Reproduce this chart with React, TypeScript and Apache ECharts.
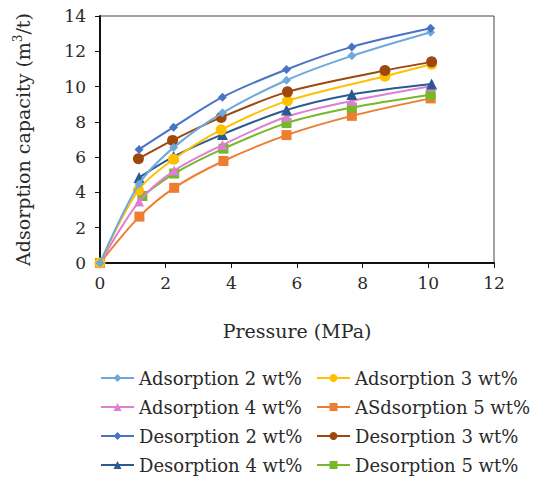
import React, { useEffect, useRef } from "react";
import * as echarts from "echarts";

const seriesNames = [
  "Adsorption 2 wt%",
  "Adsorption 3 wt%",
  "Adsorption 4 wt%",
  "ASdsorption 5 wt%",
  "Desorption 2 wt%",
  "Desorption 3 wt%",
  "Desorption 4 wt%",
  "Desorption 5 wt%",
];

const ads2: [number, number][] = [[0, 0], [1.19, 4.48], [2.24, 6.54], [3.73, 8.51], [5.68, 10.36], [7.67, 11.74], [10.07, 13.08]];
const ads3: [number, number][] = [[0, 0], [1.17, 4.13], [2.24, 5.88], [3.69, 7.55], [5.71, 9.19], [8.68, 10.59], [10.1, 11.27]];
const ads4: [number, number][] = [[0, 0], [1.19, 3.48], [2.26, 5.24], [3.73, 6.69], [5.68, 8.29], [7.67, 9.19], [10.07, 10.02]];
const ads5: [number, number][] = [[0, 0], [1.2, 2.63], [2.26, 4.26], [3.76, 5.78], [5.68, 7.25], [7.67, 8.34], [10.07, 9.33]];
const des2: [number, number][] = [[1.19, 6.44], [2.24, 7.7], [3.73, 9.4], [5.68, 10.97], [7.67, 12.25], [10.07, 13.3]];
const des3: [number, number][] = [[1.17, 5.91], [2.21, 6.95], [3.69, 8.25], [5.71, 9.7], [8.68, 10.91], [10.1, 11.4]];
const des4: [number, number][] = [[1.19, 4.84], [2.24, 6.03], [3.73, 7.29], [5.68, 8.67], [7.67, 9.55], [10.1, 10.14]];
const des5: [number, number][] = [[1.29, 3.8], [2.26, 5.07], [3.76, 6.48], [5.68, 7.93], [7.67, 8.81], [10.07, 9.54]];

const seriesData = [ads2, ads3, ads4, ads5, des2, des3, des4, des5];
const colors = ["#6fa8dc", "#ffc000", "#de7fd1", "#ed7d31", "#4a72c4", "#9e480e", "#2b5a92", "#76b82a"];
const symbols = ["diamond", "circle", "triangle", "rect", "diamond", "circle", "triangle", "rect"];
const symbolSizes = [9, 11, 10, 10, 9, 11, 11, 10];

const xTicks = [0, 2, 4, 6, 8, 10, 12];
const yTicks = [0, 2, 4, 6, 8, 10, 12, 14];

const FONT = "DejaVu Serif";
const TXT = "#2a2a2a";

export default function App() {
  const ref = useRef<HTMLDivElement>(null);
  useEffect(() => {
    if (!ref.current) return;
    const chart = echarts.init(ref.current, null, { renderer: "svg" });
    const series = seriesNames.map((name, i) => ({
      name,
      type: "line",
      data: seriesData[i],
      smooth: 0.3,
      symbol: symbols[i],
      symbolSize: symbolSizes[i],
      itemStyle: { color: colors[i] },
      lineStyle: { color: colors[i], width: 2 },
      z: 10 - (i % 4),
    }));
    const legendCols = [100, 316];
    const legendRows = [369, 398, 427, 456];
    const legends = seriesNames.map((name, i) => ({
      orient: "horizontal" as const,
      left: legendCols[i % 2],
      top: legendRows[Math.floor(i / 2)],
      padding: 0,
      itemWidth: 33,
      itemHeight: 10,
      data: [name],
      textStyle: { fontFamily: FONT, fontSize: 18, color: TXT },
    }));
    chart.setOption({
      animation: false,
      grid: {
        left: 100,
        right: 40,
        top: 16,
        bottom: 217,
        show: true,
        borderColor: "#444",
        borderWidth: 1,
      },
      xAxis: {
        type: "value",
        min: xTicks[0],
        max: xTicks[xTicks.length - 1],
        interval: 2,
        name: "Pressure (MPa)",
        nameLocation: "middle",
        nameGap: 58,
        nameTextStyle: { fontFamily: FONT, fontSize: 19, color: TXT },
        axisLine: { lineStyle: { color: "#111", width: 2 } },
        axisTick: { show: true, inside: false, length: 5, lineStyle: { color: "#111" } },
        axisLabel: { fontFamily: FONT, fontSize: 17, color: TXT, margin: 11 },
        splitLine: { show: false },
      },
      yAxis: {
        type: "value",
        min: yTicks[0],
        max: yTicks[yTicks.length - 1],
        interval: 2,
        name: "Adsorption capacity (m{sup|3}/t)",
        nameLocation: "middle",
        nameGap: 66,
        nameTextStyle: {
          fontFamily: FONT,
          fontSize: 19,
          color: TXT,
          rich: {
            sup: { fontFamily: FONT, fontSize: 12, color: TXT, verticalAlign: "bottom", padding: [0, 0, 10, 0] },
          },
        },
        axisLine: { lineStyle: { color: "#111", width: 2 } },
        axisTick: { show: true, inside: false, length: 5, lineStyle: { color: "#111" } },
        axisLabel: { fontFamily: FONT, fontSize: 17, color: TXT, margin: 14 },
        splitLine: { show: false },
      },
      legend: legends,
      series,
    });
    return () => chart.dispose();
  }, []);
  return <div ref={ref} style={{ width: 534, height: 480, position: "absolute", left: 0, top: 0 }} />;
}
